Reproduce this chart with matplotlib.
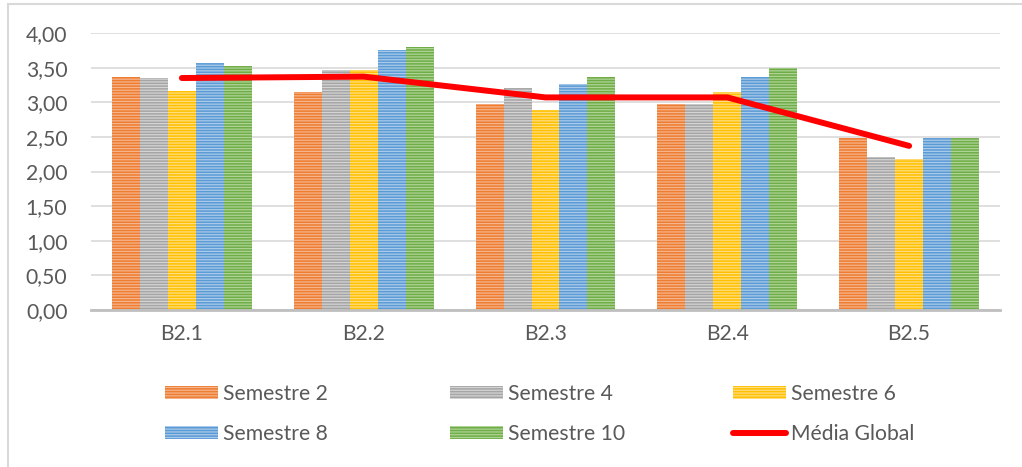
import matplotlib
matplotlib.use("Agg")
import numpy as np
import matplotlib.pyplot as plt
from matplotlib.patches import Rectangle
from matplotlib.ticker import FuncFormatter, MultipleLocator

categories = ["B2.1", "B2.2", "B2.3", "B2.4", "B2.5"]
semestre_2 = [3.36, 3.15, 2.98, 2.97, 2.49]
semestre_4 = [3.35, 3.47, 3.20, 2.97, 2.21]
semestre_6 = [3.16, 3.47, 2.89, 3.15, 2.18]
semestre_8 = [3.57, 3.75, 3.26, 3.37, 2.48]
semestre_10 = [3.53, 3.80, 3.37, 3.50, 2.49]
media_global = [3.35, 3.37, 3.07, 3.07, 2.37]

series = [
    ("Semestre 2", semestre_2, "#ED7D31", "#F6B48C"),
    ("Semestre 4", semestre_4, "#A5A5A5", "#D4D4D4"),
    ("Semestre 6", semestre_6, "#FFC000", "#FFDD80"),
    ("Semestre 8", semestre_8, "#5B9BD5", "#A9CAEA"),
    ("Semestre 10", semestre_10, "#70AD47", "#ADD395"),
]

plt.rcParams["font.family"] = ["Lato", "DejaVu Sans"]
plt.rcParams["hatch.linewidth"] = 0.9
FS = 15.2

fig = plt.figure(figsize=(10.22, 4.67), dpi=100)
ax = fig.add_axes([91 / 1022, 1 - 310 / 467, 909 / 1022, 277 / 467])

x = np.arange(len(categories))
width = 0.154
handles = {}
for i, (name, vals, color, light) in enumerate(series):
    offset = (i - 2) * width
    b = ax.bar(x + offset, vals, width, color=color, edgecolor=light,
               linewidth=0, hatch="------", label=name, zorder=2)
    handles[name] = b

line, = ax.plot(x, media_global, color="#FF0000", linewidth=4.3,
                solid_capstyle="round", label="Média Global", zorder=3)
handles["Média Global"] = line

ax.set_xlim(-0.5, len(categories) - 0.5)
ax.set_ylim(0, 4)
ax.yaxis.set_major_locator(MultipleLocator(0.5))
ax.yaxis.set_major_formatter(FuncFormatter(lambda v, p: f"{v:.2f}".replace(".", ",")))
ax.set_xticks(x)
ax.set_xticklabels(categories)
ax.grid(axis="y", color="#D9D9D9", linewidth=1.2, zorder=0)
ax.set_axisbelow(True)
for s in ["top", "right", "left"]:
    ax.spines[s].set_visible(False)
ax.spines["bottom"].set_color("#BFBFBF")
ax.spines["bottom"].set_linewidth(2)
ax.tick_params(axis="both", length=0, labelsize=FS, labelcolor="#595959")
ax.tick_params(axis="y", pad=17)
ax.tick_params(axis="x", pad=10)

# one legend per column so the column positions match the reference
columns = [
    (165, ["Semestre 2", "Semestre 8"]),
    (450, ["Semestre 4", "Semestre 10"]),
    (733, ["Semestre 6", "Média Global"]),
]
for xpix, names in columns:
    leg = fig.legend([handles[n] for n in names], names, loc="center left",
                     bbox_to_anchor=(xpix / 1022, 1 - 414 / 467),
                     frameon=False, borderpad=0, borderaxespad=0,
                     fontsize=FS, labelcolor="#595959", handlelength=2.5,
                     handleheight=0.55, handletextpad=0.25, labelspacing=0.95)

fig.patches.append(Rectangle((8 / 1022, -0.05), 1.2, 1.05 - 4 / 467,
                             transform=fig.transFigure, fill=False,
                             edgecolor="#D9D9D9", linewidth=1.5))

fig.savefig("out.png", dpi=100)
